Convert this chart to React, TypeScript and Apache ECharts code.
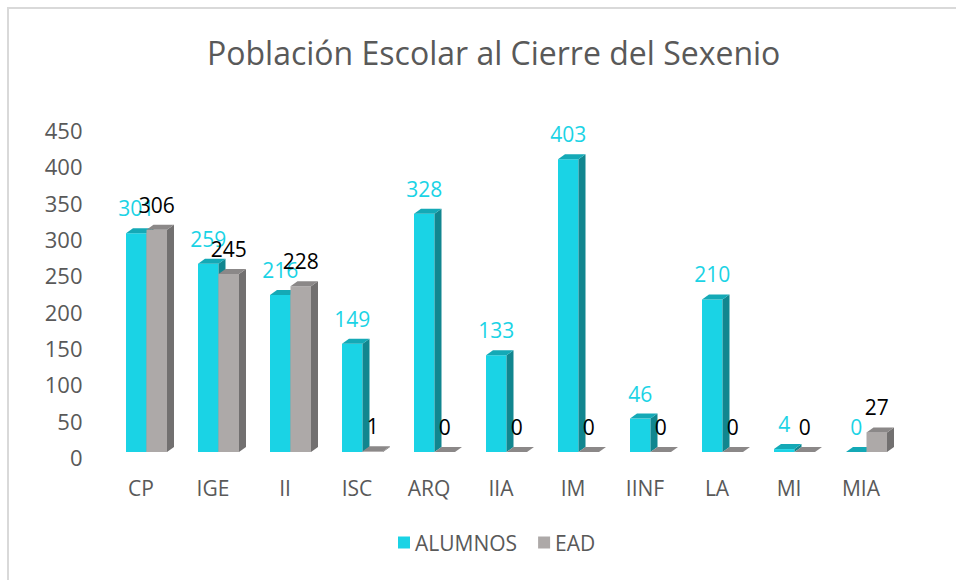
import React, { useEffect, useRef } from "react";
import * as echarts from "echarts";

const categories = ["CP", "IGE", "II", "ISC", "ARQ", "IIA", "IM", "IINF", "LA", "MI", "MIA"];
const alumnos = [301, 259, 216, 149, 328, 133, 403, 46, 210, 4, 0];
const ead = [306, 245, 228, 1, 0, 0, 0, 0, 0, 0, 27];
const seriesNames = ["ALUMNOS", "EAD"];

const FONT = "'Open Sans', sans-serif";
const Y_SHIFT = -5;

const palettes = [
  { front: "#1AD3E5", side: "#11868F", top: "#14A9B6", label: "#1AD3E5" },
  { front: "#ADA9A8", side: "#727070", top: "#8B8888", label: "#000000" },
];

function makeRender(idx: number) {
  return (params: any, api: any) => {
    const cat = api.value(0);
    const val = api.value(1);
    const top = api.coord([cat, val]);
    const base = api.coord([cat, 0]);
    const cx = top[0];
    const W = 20.5;
    const dx = 7;
    const dy = 5;
    const left = idx === 0 ? cx - W : cx;
    const right = left + W;
    const yT = top[1] + Y_SHIFT;
    const yB = base[1] + Y_SHIFT;
    const p = palettes[idx];
    return {
      type: "group",
      children: [
        {
          type: "rect",
          shape: { x: left, y: yT, width: W, height: Math.max(0, yB - yT) },
          style: { fill: p.front },
        },
        {
          type: "polygon",
          shape: { points: [[right, yT], [right + dx, yT - dy], [right + dx, yB - dy], [right, yB]] },
          style: { fill: p.side },
        },
        {
          type: "polygon",
          shape: { points: [[left, yT], [left + dx, yT - dy], [right + dx, yT - dy], [right, yT]] },
          style: { fill: p.top },
        },
        {
          type: "text",
          style: {
            text: String(val),
            x: (left + right) / 2,
            y: yT - 25,
            align: "center",
            verticalAlign: "middle",
            fill: p.label,
            font: `21px ${FONT}`,
          },
        },
      ],
    };
  };
}

export default function App() {
  const ref = useRef<HTMLDivElement>(null);
  useEffect(() => {
    if (!ref.current) return;
    const chart = echarts.init(ref.current, null, { renderer: "svg" });
    const dataSets = [alumnos, ead];
    chart.setOption({
      animation: false,
      backgroundColor: "#ffffff",
      title: {
        text: "Población Escolar al Cierre del Sexenio",
        left: 202,
        top: 31,
        textStyle: { fontFamily: FONT, fontSize: 32, fontWeight: "normal", color: "#595959" },
      },
      graphic: [
        {
          type: "rect",
          shape: { x: 8, y: 8, width: 1000, height: 1000 },
          style: { fill: "none", stroke: "#D9D9D9", lineWidth: 2 },
          silent: true,
        },
      ],
      legend: {
        bottom: 22,
        left: 393,
        icon: "rect",
        itemWidth: 12,
        itemHeight: 12,
        itemGap: 21,
        textStyle: { fontFamily: FONT, fontSize: 21, color: "#595959" },
        data: seriesNames.map((n, i) => ({ name: n, itemStyle: { color: palettes[i].front } })),
      },
      grid: { left: 110.5, right: 53.5, top: 130, bottom: 123, containLabel: false },
      xAxis: {
        type: "category",
        data: categories,
        axisLine: { show: false },
        axisTick: { show: false },
        axisLabel: {
          fontFamily: FONT,
          fontSize: 21,
          color: "#595959",
          margin: 20,
          padding: [0, 11, 0, 0],
        },
      },
      yAxis: {
        type: "value",
        min: 0,
        max: 450,
        interval: 50,
        splitLine: { show: false },
        axisLine: { show: false },
        axisTick: { show: false },
        axisLabel: {
          fontFamily: FONT,
          fontSize: 22,
          color: "#595959",
          margin: 28,
        },
      },
      series: seriesNames.map((name, i) => ({
        name,
        type: "custom",
        itemStyle: { color: palettes[i].front },
        renderItem: makeRender(i),
        encode: { x: 0, y: 1 },
        data: dataSets[i].map((v, k) => [k, v]),
        z: 2 + i,
      })),
    });
    return () => chart.dispose();
  }, []);
  return (
    <div
      ref={ref}
      style={{ position: "fixed", left: 0, top: 0, width: 956, height: 580 }}
    />
  );
}
